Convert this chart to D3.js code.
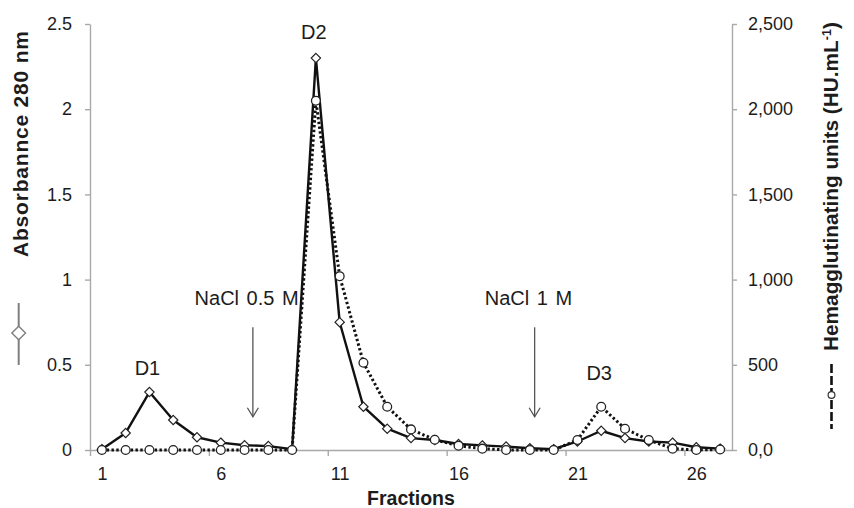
<!DOCTYPE html>
<html><head><meta charset="utf-8">
<script src="https://cdn.jsdelivr.net/npm/d3@7"></script>
<style>
body{margin:0;background:#fff}
svg{display:block;font-family:"Liberation Sans",Arial,sans-serif}
</style>
</head><body>
<svg id="c" width="854" height="508"></svg>
<script>
// ---- data ----
const fractions = [1,2,3,4,5,6,7,8,9,10,11,12,13,14,15,16,17,18,19,20,21,22,23,24,25,26,27];
const absorbance = [0.005,0.10,0.34,0.176,0.075,0.043,0.028,0.023,0.005,2.30,0.75,0.254,0.125,0.07,0.059,0.035,0.027,0.02,0.01,0.005,0.05,0.113,0.07,0.05,0.043,0.016,0.008];
const hemagglutinating = [0,0,0,0,0,0,0,0,0,2050,1020,512,254,121,60,25,8,0,0,0,59,254,125,58,8,0,3];
const leftTicks = [0,0.5,1,1.5,2,2.5];
const leftTickLabels = ["0","0.5","1","1.5","2","2.5"];
const rightTicks = [0,500,1000,1500,2000,2500];
const rightTickLabels = ["0,0","500","1,000","1,500","2,000","2,500"];
const xLabelFractions = [1,6,11,16,21,26];
const xBoundaryTicks = [0.5,5.5,10.5,15.5,20.5,25.5];
const peakLabels = [{t:"D1",f:3,v:0.44},{t:"D2",f:10,v:2.41},{t:"D3",f:22,v:0.41}];
const saltSteps = [{t:"NaCl 0.5 M",f:7.35,tf:4.9},{t:"NaCl 1 M",f:19.2,tf:17.1}];

// ---- layout ----
const svg = d3.select("#c");
const L = 90, R = 732, T = 24, B = 450;
const x = d3.scaleLinear().domain([0.5, 27.5]).range([L, R]);
const yL = d3.scaleLinear().domain([0, 2.5]).range([B, T]);
const yR = d3.scaleLinear().domain([0, 2500]).range([B, T]);
const axisColor = "#a9a9a9", textColor = "#1c1c1c";

function styleAxis(g){
  g.selectAll(".domain").attr("stroke", axisColor).attr("stroke-width", 1.4);
  g.selectAll(".tick line").attr("stroke", axisColor).attr("stroke-width", 1.4);
  g.selectAll("text").attr("fill", textColor).style("font-size","18px");
}

svg.append("g").attr("transform",`translate(${L},0)`)
  .call(d3.axisLeft(yL).tickValues(leftTicks).tickSize(5).tickSizeOuter(0).tickPadding(13)
        .tickFormat((d,i)=>leftTickLabels[i]))
  .call(styleAxis).attr("font-family",null);

svg.append("g").attr("transform",`translate(${R},0)`)
  .call(d3.axisRight(yR).tickValues(rightTicks).tickSize(5).tickSizeOuter(0).tickPadding(11)
        .tickFormat((d,i)=>rightTickLabels[i]))
  .call(styleAxis).attr("font-family",null);

svg.append("g").attr("transform",`translate(0,${B})`)
  .call(d3.axisBottom(x).tickValues(xBoundaryTicks).tickSize(6).tickSizeOuter(0).tickFormat(""))
  .call(styleAxis);

svg.append("g").attr("transform",`translate(0,${B})`)
  .call(d3.axisBottom(x).tickValues(xLabelFractions).tickSize(0).tickPadding(17).tickFormat(d3.format("d")))
  .call(styleAxis).attr("font-family",null)
  .call(g=>g.select(".domain").remove());

// ---- lines ----
const absPts = fractions.map((f,i)=>[x(f), yL(absorbance[i])]);
const huPts = fractions.map((f,i)=>[x(f), yR(hemagglutinating[i])]);
const line = d3.line();

svg.append("path").attr("d", line(absPts)).attr("fill","none")
  .attr("stroke","#111").attr("stroke-width",2.4).attr("stroke-linejoin","round");
svg.append("path").attr("d", line(huPts)).attr("fill","none")
  .attr("stroke","#111").attr("stroke-width",3).attr("stroke-dasharray","2.4,2.4");

const diamond = d3.symbol().type(d3.symbolDiamond2).size(55);
svg.append("g").selectAll("path").data(absPts).join("path")
  .attr("transform",d=>`translate(${d[0]},${d[1]})`)
  .attr("d", diamond).attr("fill","#fff").attr("stroke","#222").attr("stroke-width",1.2);

svg.append("g").selectAll("circle").data(huPts).join("circle")
  .attr("cx",d=>d[0]).attr("cy",d=>d[1]).attr("r",4.4)
  .attr("fill","#fff").attr("stroke","#222").attr("stroke-width",1.3);

// ---- annotations ----
svg.append("g").selectAll("text").data(peakLabels).join("text")
  .attr("x",d=>x(d.f)-2).attr("y",d=>yL(d.v)).attr("text-anchor","middle")
  .attr("fill",textColor).style("font-size","20px").text(d=>d.t);

const salt = svg.append("g");
salt.selectAll("text").data(saltSteps).join("text")
  .attr("x",d=>x(d.tf)).attr("y",yL(0.85)).attr("fill",textColor)
  .style("font-size","20px").style("word-spacing","2px").text(d=>d.t);
saltSteps.forEach(s=>{
  const ax = x(s.f), y1 = yL(0.72), y2 = yL(0.195);
  salt.append("line").attr("x1",ax).attr("x2",ax).attr("y1",y1).attr("y2",y2)
    .attr("stroke","#555").attr("stroke-width",1.3);
  salt.append("path").attr("d",`M${ax-5.5},${y2-9}L${ax},${y2}L${ax+5.5},${y2-9}`)
    .attr("fill","none").attr("stroke","#555").attr("stroke-width",1.3);
});

// ---- axis titles ----
svg.append("text").attr("transform","translate(454,505)").attr("text-anchor","middle")
  .attr("x",-43).attr("fill",textColor).style("font-size","19.5px").style("font-weight","bold")
  .text("Fractions");

svg.append("text").attr("transform","translate(28,257) rotate(-90)")
  .attr("fill",textColor).style("font-size","21px").style("font-weight","bold")
  .attr("textLength",226).attr("lengthAdjust","spacing")
  .text("Absorbannce 280 nm");

const rt = svg.append("text").attr("transform","translate(838,351) rotate(-90)")
  .attr("fill",textColor).style("font-size","20.8px").style("font-weight","bold");
rt.append("tspan").text("Hemagglutinating units (HU.mL");
rt.append("tspan").attr("dy",-7).style("font-size","12.5px").text("-1");
rt.append("tspan").attr("dy",7).text(")");

// ---- legend keys beside titles ----
svg.append("line").attr("x1",18.7).attr("x2",18.7).attr("y1",303).attr("y2",365)
  .attr("stroke","#7f7f7f").attr("stroke-width",2);
svg.append("path").attr("transform","translate(18.7,333)")
  .attr("d", d3.symbol().type(d3.symbolDiamond2).size(120))
  .attr("fill","#fff").attr("stroke","#7f7f7f").attr("stroke-width",1.4);

svg.append("line").attr("x1",831.5).attr("x2",831.5).attr("y1",364).attr("y2",429)
  .attr("stroke","#111").attr("stroke-width",2.6).attr("stroke-dasharray","9,3");
svg.append("circle").attr("cx",831.5).attr("cy",395).attr("r",3.4)
  .attr("fill","#fff").attr("stroke","#333").attr("stroke-width",1.2);
</script>
</body></html>
